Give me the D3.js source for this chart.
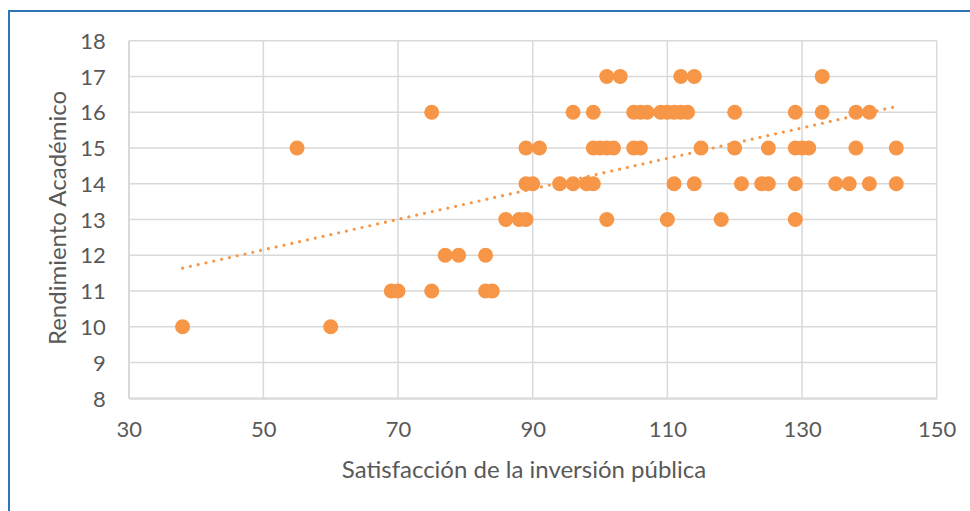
<!DOCTYPE html>
<html>
<head>
<meta charset="utf-8">
<script src="https://cdn.jsdelivr.net/npm/d3@7"></script>
<style>
  html, body { margin: 0; padding: 0; background: #fff; }
  svg { display: block; }
</style>
</head>
<body>
<svg id="chart" width="970" height="511"></svg>
<script>
// ---- data ----
const satisfaccion = [
  38, 60,
  69, 70, 75, 83, 84,
  77, 79, 83,
  86, 88, 89, 101, 110, 118, 129,
  89, 90, 94, 96, 98, 99, 111, 114, 121, 124, 125, 129, 135, 137, 140, 144,
  55, 89, 91, 99, 100, 101, 102, 105, 106, 115, 120, 125, 129, 130, 131, 138, 144,
  75, 96, 99, 105, 106, 107, 109, 110, 111, 112, 113, 120, 129, 133, 138, 140,
  101, 103, 112, 114, 133
];
const rendimiento = [
  10, 10,
  11, 11, 11, 11, 11,
  12, 12, 12,
  13, 13, 13, 13, 13, 13, 13,
  14, 14, 14, 14, 14, 14, 14, 14, 14, 14, 14, 14, 14, 14, 14, 14,
  15, 15, 15, 15, 15, 15, 15, 15, 15, 15, 15, 15, 15, 15, 15, 15, 15,
  16, 16, 16, 16, 16, 16, 16, 16, 16, 16, 16, 16, 16, 16, 16, 16,
  17, 17, 17, 17, 17
];
const trendX = [38, 144];
const trendY = [11.64, 16.16];
const xTicks = [30, 50, 70, 90, 110, 130, 150];
const yTicks = [8, 9, 10, 11, 12, 13, 14, 15, 16, 17, 18];
const xTitle = "Satisfacción de la inversión pública";
const yTitle = "Rendimiento Académico";

// ---- layout ----
const svg = d3.select("#chart");
const pLeft = 128.7, pRight = 936.7, pTop = 40.7, pBottom = 398.3;
const orange = "#F79646";
const grid = "#D9D9D9";
const textCol = "#595959";
const font = "Lato, 'Liberation Sans', sans-serif";

// chart border
svg.append("rect")
  .attr("x", 9).attr("y", 11)
  .attr("width", 980).attr("height", 540)
  .attr("fill", "#fff")
  .attr("stroke", "#2E75B6").attr("stroke-width", 2);

const x = d3.scaleLinear().domain([30, 150]).range([pLeft, pRight]);
const y = d3.scaleLinear().domain([8, 18]).range([pBottom, pTop]);

// gridlines
svg.append("g").selectAll("line").data(xTicks).join("line")
  .attr("x1", d => x(d)).attr("x2", d => x(d))
  .attr("y1", pTop).attr("y2", pBottom)
  .attr("stroke", grid).attr("stroke-width", 1.5);
svg.append("g").selectAll("line").data(yTicks).join("line")
  .attr("x1", pLeft).attr("x2", pRight)
  .attr("y1", d => y(d)).attr("y2", d => y(d))
  .attr("stroke", grid).attr("stroke-width", 1.5);

// axes (labels only, Excel style)
const xAxis = d3.axisBottom(x).tickValues(xTicks).tickSize(0).tickPadding(0);
const gx = svg.append("g").attr("transform", `translate(0,${pBottom})`).call(xAxis);
gx.select(".domain").attr("stroke", grid).attr("stroke-width", 2);
gx.selectAll("text")
  .attr("y", 39).attr("dy", 0)
  .attr("fill", textCol).attr("font-size", 22).attr("font-family", font);

const yAxis = d3.axisLeft(y).tickValues(yTicks).tickSize(0).tickPadding(0);
const gy = svg.append("g").attr("transform", `translate(${pLeft},0)`).call(yAxis);
gy.select(".domain").attr("stroke", grid).attr("stroke-width", 1.5);
gy.selectAll("text")
  .attr("x", -23).attr("dy", "0.35em")
  .attr("fill", textCol).attr("font-size", 22).attr("font-family", font);

// points
const pts = satisfaccion.map((v, i) => ({ x: v, y: rendimiento[i] }));
svg.append("g").selectAll("circle").data(pts).join("circle")
  .attr("cx", d => x(d.x)).attr("cy", d => y(d.y))
  .attr("r", 7.5).attr("fill", orange);

// trendline (round dots)
const line = d3.line().x(d => x(d[0])).y(d => y(d[1]));
svg.append("path")
  .datum(trendX.map((v, i) => [v, trendY[i]]))
  .attr("d", line)
  .attr("fill", "none").attr("stroke", orange)
  .attr("stroke-width", 3.2).attr("stroke-linecap", "round")
  .attr("stroke-dasharray", "0 8");

// axis titles
svg.append("text")
  .attr("x", 524).attr("y", 478)
  .attr("text-anchor", "middle")
  .attr("fill", textCol).attr("font-size", 24).attr("font-family", font)
  .text(xTitle);
svg.append("text")
  .attr("transform", `translate(66,218) rotate(-90)`)
  .attr("text-anchor", "middle")
  .attr("fill", textCol).attr("font-size", 24).attr("font-family", font)
  .text(yTitle);
</script>
</body>
</html>
